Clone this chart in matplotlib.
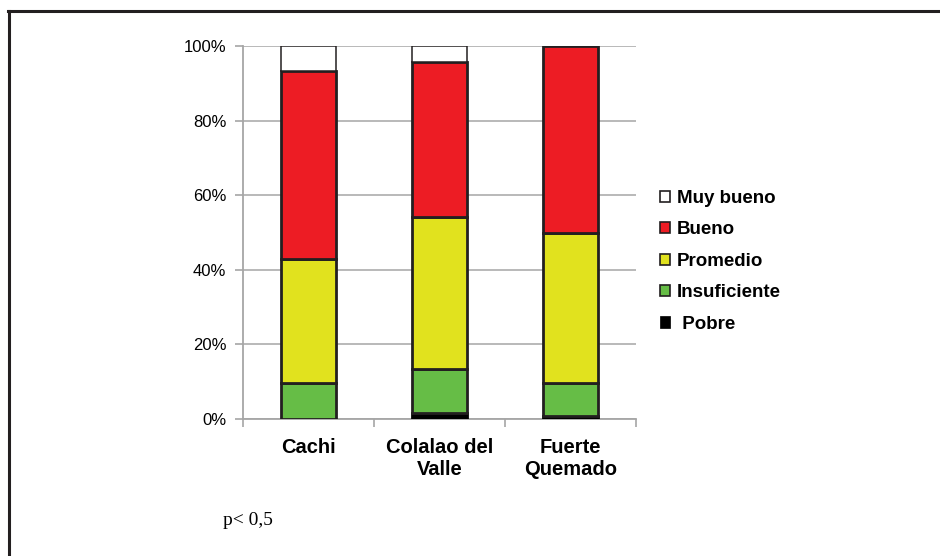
import matplotlib
matplotlib.use("Agg")
import matplotlib.pyplot as plt
from matplotlib.patches import Patch
from matplotlib.lines import Line2D
import numpy as np

categories = ["Cachi", "Colalao del\nValle", "Fuerte\nQuemado"]
series_names = ["Pobre", "Insuficiente", "Promedio", "Bueno", "Muy bueno"]
pobre = [0.0, 1.6, 0.8]
insuficiente = [9.6, 11.8, 8.8]
promedio = [33.3, 40.8, 40.2]
bueno = [50.4, 41.5, 50.2]
muy_bueno = [6.7, 4.3, 0.0]
yticks = [0, 20, 40, 60, 80, 100]
ytick_labels = ["0%", "20%", "40%", "60%", "80%", "100%"]

colors = ["#000000", "#66BD46", "#E1E21E", "#ED1C24", "#FFFFFF"]
edge = "#231f20"

plt.rcParams['font.family'] = ['Liberation Sans', 'DejaVu Sans']

fig = plt.figure(figsize=(9.4, 5.56), dpi=100)
ax = fig.add_axes([243/940, 1-419/556, (636-243)/940, (419-46)/556])

x = np.arange(len(categories))
w = 0.42
bottom = np.zeros(len(categories))
data = [pobre, insuficiente, promedio, bueno, muy_bueno]
for i, (name, vals) in enumerate(zip(series_names, data)):
    vals = np.array(vals)
    for j in range(len(categories)):
        if vals[j] <= 0:
            continue
        lw = 1.1 if name == "Muy bueno" else 2.0
        ec = "#000000" if name == "Pobre" else edge
        ax.bar(x[j], vals[j], width=w, bottom=bottom[j], color=colors[i],
               edgecolor=ec, linewidth=lw, zorder=3)
    bottom += vals

ax.set_xlim(-0.5, 2.5)
ax.set_ylim(0, 100)
ax.set_yticks(yticks)
ax.set_yticklabels(ytick_labels, fontsize=12)
ax.yaxis.grid(True, color="#b3b3b3", linewidth=1.3, zorder=0)
ax.set_axisbelow(True)
ax.set_xticks(x)
ax.set_xticklabels(categories, fontsize=14.5, fontweight="bold", linespacing=1.2)
ax.set_xticks([-0.5, 0.5, 1.5, 2.5], minor=True)
ax.tick_params(axis="x", which="major", length=0, pad=14)
ax.tick_params(axis="x", which="minor", length=6, color="#a6a6a6", width=1.2)
ax.tick_params(axis="y", length=6, color="#a6a6a6", width=1.2, pad=6)
for s in ["top", "right"]:
    ax.spines[s].set_visible(False)
for s in ["left", "bottom"]:
    ax.spines[s].set_color("#a6a6a6")
    ax.spines[s].set_linewidth(1.3)

handles = []
labels = []
for name, c in zip(series_names[::-1], colors[::-1]):
    if name == "Pobre":
        handles.append(Patch(facecolor=c, edgecolor=c, linewidth=0.5))
        labels.append(" " + name)
    else:
        handles.append(Patch(facecolor=c, edgecolor=edge, linewidth=1.2))
        labels.append(name)
leg = fig.legend(handles, labels, loc="upper left", bbox_to_anchor=(660/940, 1-190/556),
                 frameon=False, prop={"weight": "bold", "size": 13.5},
                 handlelength=0.55, handleheight=0.55, handletextpad=0.35,
                 labelspacing=0.77, borderaxespad=0, borderpad=0)

fig.text(223/940, 1-525/556, "p< 0,5", fontsize=14, family=["Liberation Serif", "DejaVu Serif"],
         ha="left", va="baseline")

fig.add_artist(Line2D([9/940, 9/940], [0, 1-11/556], color=edge, linewidth=2.2,
                      transform=fig.transFigure))
fig.add_artist(Line2D([8/940, 1], [1-11/556, 1-11/556], color=edge, linewidth=2.2,
                      transform=fig.transFigure))

fig.savefig("out.png", dpi=100)
